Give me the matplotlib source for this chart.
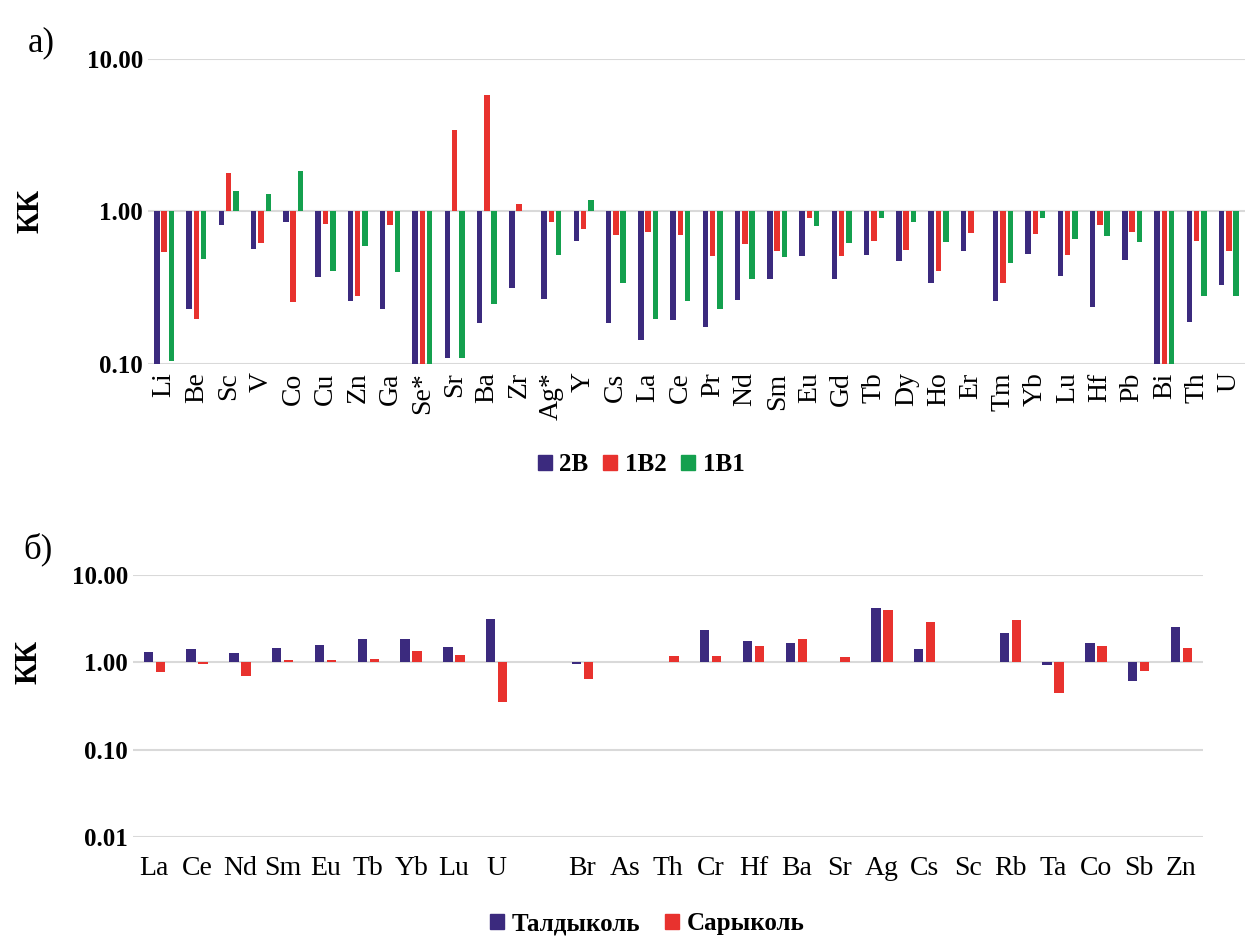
import numpy as np
import matplotlib
matplotlib.use("Agg")
import matplotlib.pyplot as plt
from matplotlib.patches import Patch
from matplotlib.ticker import FixedLocator, FuncFormatter

plt.rcParams['font.family'] = ['Liberation Serif', 'DejaVu Serif']

# panel a) - concentration coefficients (KK) by element
elements_a = ["Li", "Be", "Sc", "V", "Co", "Cu", "Zn", "Ga", "Se*", "Sr", "Ba", "Zr",
              "Ag*", "Y", "Cs", "La", "Ce", "Pr", "Nd", "Sm", "Eu", "Gd", "Tb", "Dy",
              "Ho", "Er", "Tm", "Yb", "Lu", "Hf", "Pb", "Bi", "Th", "U"]
kk_2B = [0.09, 0.23, 0.82, 0.57, 0.85, 0.37, 0.26, 0.23, 0.09, 0.109, 0.187, 0.315,
         0.267, 0.64, 0.186, 0.144, 0.194, 0.174, 0.264, 0.36, 0.51, 0.36, 0.52, 0.47,
         0.34, 0.55, 0.26, 0.53, 0.38, 0.236, 0.48, 0.09, 0.188, 0.33]
kk_1B2 = [0.54, 0.197, 1.79, 0.62, 0.256, 0.83, 0.28, 0.81, 0.09, 3.44, 5.78, 1.12,
          0.85, 0.77, 0.70, 0.73, 0.70, 0.51, 0.61, 0.55, 0.91, 0.51, 0.64, 0.56,
          0.41, 0.72, 0.34, 0.71, 0.52, 0.82, 0.73, 0.09, 0.64, 0.55]
kk_1B1 = [0.105, 0.49, 1.37, 1.30, 1.84, 0.41, 0.59, 0.40, 0.09, 0.109, 0.249, np.nan,
          0.52, 1.19, 0.34, 0.197, 0.26, 0.23, 0.36, 0.50, 0.80, 0.62, 0.91, 0.85,
          0.63, 1.01, 0.46, 0.91, 0.66, 0.69, 0.63, 0.09, 0.28, 0.277]

# panel б) - two lakes
elements_b = ["La", "Ce", "Nd", "Sm", "Eu", "Tb", "Yb", "Lu", "U", "", "Br", "As", "Th",
              "Cr", "Hf", "Ba", "Sr", "Ag", "Cs", "Sc", "Rb", "Ta", "Co", "Sb", "Zn"]
kk_tald = [1.31, 1.41, 1.27, 1.46, 1.57, 1.83, 1.87, 1.51, 3.16, np.nan, 0.95, np.nan, np.nan,
           2.33, 1.75, 1.65, np.nan, 4.23, 1.44, np.nan, 2.17, 0.93, 1.68, 0.62, 2.56]
kk_sary = [0.77, 0.96, 0.70, 1.06, 1.07, 1.09, 1.34, 1.22, 0.35, np.nan, 0.64, np.nan, 1.17,
           1.17, 1.55, 1.87, 1.15, 4.01, 2.93, np.nan, 3.08, 0.45, 1.55, 0.80, 1.47]

PURPLE = "#3B2A7E"
RED = "#E8322E"
GREEN = "#14A04E"
GRID = "#D9D9D9"


def style_axis(ax, ymin):
    ax.set_yscale("log")
    ax.set_ylim(ymin, 10)
    ticks = [t for t in [0.01, 0.1, 1, 10] if t >= ymin]
    ax.yaxis.set_major_locator(FixedLocator(ticks))
    ax.yaxis.set_minor_locator(FixedLocator([]))
    ax.yaxis.set_major_formatter(FuncFormatter(lambda v, p: f"{v:.2f}"))
    ax.grid(axis="y", color=GRID, linewidth=1.5)
    ax.set_axisbelow(True)
    for s in ax.spines.values():
        s.set_visible(False)
    ax.tick_params(length=0)
    for lbl in ax.get_yticklabels():
        lbl.set_fontweight("bold")
        lbl.set_fontsize(18)


fig = plt.figure(figsize=(12.45, 9.39), dpi=100)

# ---- panel a ----
ax1 = fig.add_axes([0.1189, 0.6124, 0.8811, 0.3248])
x = np.arange(len(elements_a))
w = 0.17
d = 0.226
for off, vals, col in [(-d, kk_2B, PURPLE), (0, kk_1B2, RED), (d, kk_1B1, GREEN)]:
    v = np.array(vals, dtype=float)
    ax1.bar(x + off, v - 1, bottom=1, width=w, color=col)
ax1.set_xlim(-0.5, len(elements_a) - 0.5)
style_axis(ax1, 0.1)
ax1.set_xticks(x)
ax1.set_xticklabels(elements_a, rotation=90, fontsize=20)
ax1.tick_params(axis="x", pad=6)

fig.legend(handles=[Patch(color=PURPLE, label="2B"), Patch(color=RED, label="1B2"),
                    Patch(color=GREEN, label="1B1")],
           loc="center", bbox_to_anchor=(0.515, 0.505), ncol=3, frameon=False,
           prop={"weight": "bold", "size": 18}, handlelength=0.55, handleheight=0.55,
           handletextpad=0.3, columnspacing=0.6)

# ---- panel б ----
ax2 = fig.add_axes([0.1068, 0.1086, 0.8594, 0.279])
x2 = np.arange(len(elements_b))
w2 = 0.22
d2 = 0.14
for off, vals, col in [(-d2, kk_tald, PURPLE), (d2, kk_sary, RED)]:
    v = np.array(vals, dtype=float)
    ax2.bar(x2 + off, v - 1, bottom=1, width=w2, color=col)
ax2.set_xlim(-0.5, len(elements_b) - 0.5)
style_axis(ax2, 0.01)
ax2.set_xticks(x2)
ax2.set_xticklabels(elements_b, fontsize=20)
ax2.tick_params(axis="x", pad=14)

fig.legend(handles=[Patch(color=PURPLE, label="Талдыколь"), Patch(color=RED, label="Сарыколь")],
           loc="center", bbox_to_anchor=(0.52, 0.016), ncol=2, frameon=False,
           prop={"weight": "bold", "size": 18}, handlelength=0.55, handleheight=0.55,
           handletextpad=0.3, columnspacing=1.0)

# y axis titles and panel letters
fig.text(0.025, 0.775, "КК", fontsize=22, fontweight="bold", rotation=90,
         ha="center", va="center")
fig.text(0.023, 0.295, "КК", fontsize=22, fontweight="bold", rotation=90,
         ha="center", va="center")
fig.text(0.022, 0.945, "а)", fontsize=25)
fig.text(0.019, 0.405, "б)", fontsize=25)

fig.savefig("out.png", dpi=100)
